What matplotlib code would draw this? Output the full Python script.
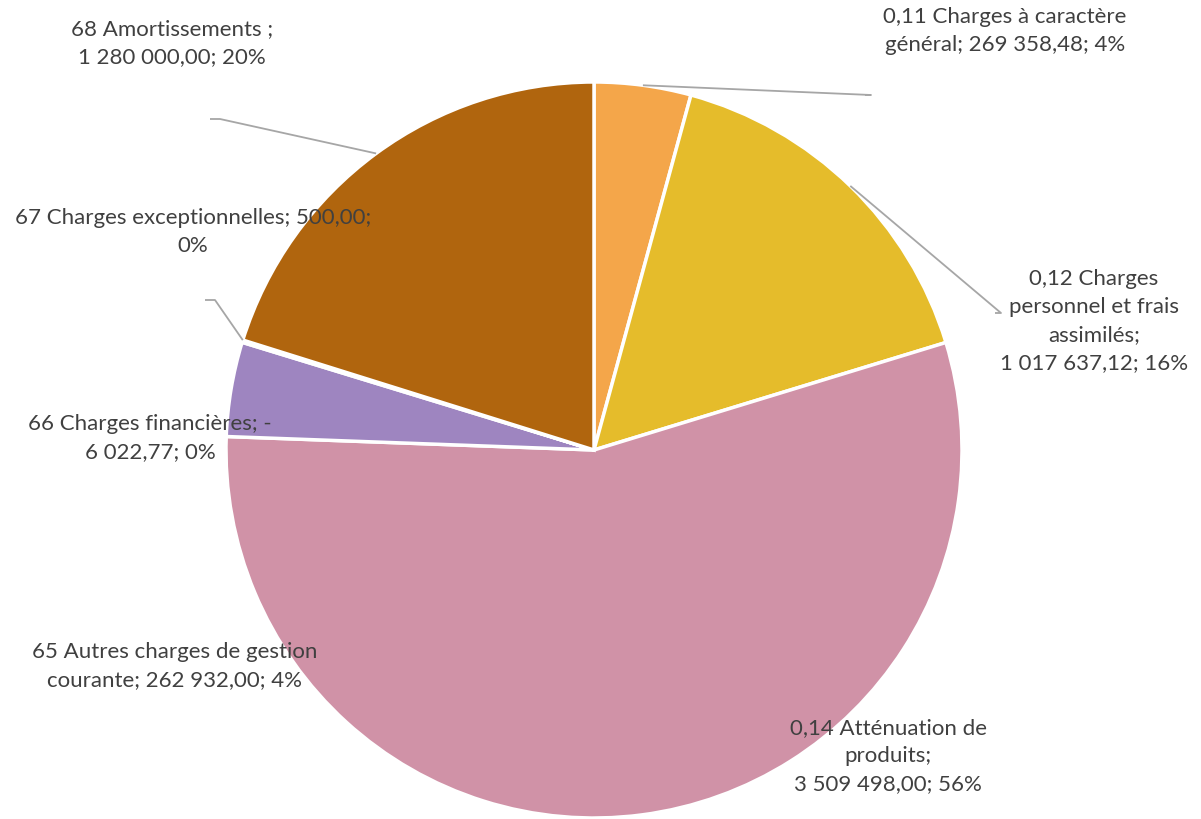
import numpy as np
import matplotlib.pyplot as plt

# données du graphique
categories = ["0,11 Charges à caractère général",
              "0,12 Charges personnel et frais assimilés",
              "0,14 Atténuation de produits",
              "65 Autres charges de gestion courante",
              "66 Charges financières",
              "67 Charges exceptionnelles",
              "68 Amortissements "]
values = [269358.48, 1017637.12, 3509498.00, 262932.00, -6022.77, 500.00, 1280000.00]
percents = ["4%", "16%", "56%", "4%", "0%", "0%", "20%"]
colors = ["#F4A64A", "#E5BC2B", "#D092A7", "#9E85C0", "#7A9A45", "#5B8DB8", "#B0650E"]

# étiquettes telles qu'Excel les a coupées
labels = ["0,11 Charges à caractère\ngénéral; 269 358,48; 4%",
          "0,12 Charges\npersonnel et frais\nassimilés;\n1 017 637,12; 16%",
          "0,14 Atténuation de\nproduits;\n3 509 498,00; 56%",
          "65 Autres charges de gestion\ncourante; 262 932,00; 4%",
          "66 Charges financières; -\n6 022,77; 0%",
          "67 Charges exceptionnelles; 500,00;\n0%",
          "68 Amortissements ;\n1 280 000,00; 20%"]
label_pos = [(1005, 31), (1094, 321), (888, 756), (175, 666), (150, 438), (193, 232), (172, 43)]
# coude des traits de rappel (None = pas de trait)
elbows = [(865, 95), (995, 313), None, None, None, (205, 300), (210, 119)]

W, H = 1201, 819
cx, cy, R = 594, 450, 368

fig = plt.figure(figsize=(W / 100, H / 100), dpi=100)
ax = fig.add_axes([(cx - R) / W, (H - cy - R) / H, 2 * R / W, 2 * R / H])

wedges, _ = ax.pie(np.abs(values), colors=colors, startangle=90, counterclock=False,
                   radius=1, wedgeprops=dict(edgecolor="white", linewidth=2.5))
ax.set_xlim(-1, 1)
ax.set_ylim(-1, 1)
ax.set_aspect("equal")
ax.axis("off")


def to_data(px, py):
    return (px - cx) / R, (cy - py) / R


for i, w in enumerate(wedges):
    tx, ty = label_pos[i]
    fig.text(tx / W, 1 - ty / H, labels[i], ha="center", va="center",
             fontsize=16, color="#404040", family="Lato", linespacing=1.5)
    if elbows[i] is not None:
        ang = np.deg2rad((w.theta1 + w.theta2) / 2)
        x0, y0 = np.cos(ang), np.sin(ang)
        ex, ey = to_data(*elbows[i])
        if ex > 0:
            hx = ex + 6 / R
        else:
            hx = ex + 10 / R
        ax.plot([x0, hx, ex], [y0, ey, ey], color="#A6A6A6", linewidth=1.3,
                clip_on=False, solid_capstyle="butt")

fig.savefig("out.png", dpi=100)
